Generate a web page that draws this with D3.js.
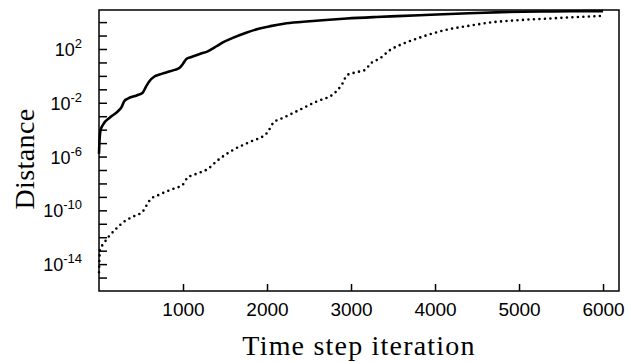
<!DOCTYPE html>
<html>
<head>
<meta charset="utf-8">
<script src="https://cdn.jsdelivr.net/npm/d3@7"></script>
<style>
  body { margin: 0; background: #fff; }
  svg { display: block; }
</style>
</head>
<body>
<svg width="636" height="362"></svg>
<script>
// solid curve
let solidSteps = [0, 8, 20, 50, 130, 230, 270, 300, 340, 450, 520, 560, 600, 660, 720, 800, 900, 960, 1000, 1040, 1100, 1200, 1300, 1400, 1480, 1600, 1760, 1900, 2040, 2200, 2430, 2700, 2950, 3300, 3550, 3950, 4400, 4800, 5400, 6000];
let solidDist = [1.6e-6, 2.5e-5, 1e-4, 2.5e-4, 8e-4, 2.5e-3, 5e-3, 1.3e-2, 2e-2, 3.5e-2, 5.6e-2, 0.16, 0.4, 0.9, 1.25, 1.8, 2.8, 4, 8, 18, 25, 42, 70, 160, 320, 700, 1700, 3200, 5000, 7600, 10500, 14500, 18600, 24000, 28000, 35000, 45000, 55000, 62000, 66000];

// dotted curve
let dottedSteps = [0, 5, 12, 50, 110, 200, 310, 430, 520, 560, 610, 700, 860, 1000, 1050, 1200, 1300, 1400, 1600, 1800, 2000, 2075, 2200, 2350, 2590, 2800, 2900, 2950, 3050, 3170, 3230, 3345, 3460, 3600, 3750, 3940, 4150, 4380, 4700, 5000, 5370, 5700, 6000];
let dottedDist = [2.5e-15, 2.5e-14, 1.3e-13, 3e-13, 1e-12, 4e-12, 1.6e-11, 4e-11, 8e-11, 2e-10, 6.3e-10, 1.3e-9, 3.5e-9, 8.5e-9, 2.5e-8, 6.3e-8, 1.25e-7, 4.5e-7, 3.2e-6, 1.25e-5, 5.6e-5, 3.2e-4, 8e-4, 2.3e-3, 1.25e-2, 5e-2, 0.28, 1.1, 1.8, 2.8, 8, 20, 80, 220, 500, 1250, 2800, 5000, 10000, 14000, 18600, 24000, 29500];

let xTicks = [1000, 2000, 3000, 4000, 5000, 6000];
let yTicks = d3.range(-15, 5).map(e => Math.pow(10, e));
let yLabelExps = [-14, -10, -6, -2, 2];

let svg = d3.select("svg");
let margin = {top: 10, right: 17, bottom: 71, left: 99};
let width = 636, height = 362;

let x = d3.scaleLinear()
  .domain([0, 6190])
  .range([margin.left, width - margin.right]);

let y = d3.scaleLog()
  .domain([1e-16, Math.pow(10, 4.9)])
  .range([height - margin.bottom, margin.top]);

// x axis, ticks pointing inward
svg.append("g")
  .attr("transform", `translate(0,${height - margin.bottom})`)
  .call(d3.axisBottom(x).tickValues(xTicks).tickSize(-7).tickPadding(12).tickFormat(d3.format("d")))
  .call(g => g.select(".domain").remove())
  .call(g => g.selectAll("line").attr("stroke", "#000").attr("stroke-width", 1.5))
  .call(g => g.selectAll("text")
    .attr("font-family", "Liberation Sans, Arial, sans-serif")
    .attr("font-size", 19)
    .attr("fill", "#000"));

// y axis, one tick per decade
svg.append("g")
  .attr("transform", `translate(${margin.left},0)`)
  .call(d3.axisLeft(y).tickValues(yTicks).tickSize(-8).tickFormat(""))
  .call(g => g.select(".domain").remove())
  .call(g => g.selectAll("line").attr("stroke", "#000").attr("stroke-width", 1.5));

let yLab = svg.append("g")
  .attr("font-family", "Liberation Sans, Arial, sans-serif")
  .attr("fill", "#000")
  .attr("text-anchor", "end")
  .selectAll("text").data(yLabelExps).enter().append("text")
  .attr("x", margin.left - 17)
  .attr("y", d => y(Math.pow(10, d)) + 7);
yLab.append("tspan").attr("font-size", 18).text("10");
yLab.append("tspan").attr("font-size", 13).attr("dy", -8).text(d => d);

let line = d3.line()
  .x(d => x(d[0]))
  .y(d => y(d[1]))
  .curve(d3.curveMonotoneX);

svg.append("path")
  .datum(d3.zip(dottedSteps, dottedDist))
  .attr("fill", "none")
  .attr("stroke", "#000")
  .attr("stroke-width", 2.6)
  .attr("stroke-linecap", "round")
  .attr("stroke-dasharray", "0,5.5")
  .attr("d", line);

svg.append("path")
  .datum(d3.zip(solidSteps, solidDist))
  .attr("fill", "none")
  .attr("stroke", "#000")
  .attr("stroke-width", 2.6)
  .attr("stroke-linejoin", "round")
  .attr("d", line);

// frame
svg.append("rect")
  .attr("x", margin.left)
  .attr("y", margin.top)
  .attr("width", width - margin.left - margin.right)
  .attr("height", height - margin.top - margin.bottom)
  .attr("fill", "none")
  .attr("stroke", "#000")
  .attr("stroke-width", 1.5);

svg.append("text")
  .attr("x", (margin.left + width - margin.right) / 2)
  .attr("y", 355)
  .attr("text-anchor", "middle")
  .attr("font-family", "Liberation Serif, Times New Roman, serif")
  .attr("font-size", 28)
  .attr("letter-spacing", 1.2)
  .text("Time step iteration");

svg.append("text")
  .attr("transform", "translate(34,159) rotate(-90)")
  .attr("text-anchor", "middle")
  .attr("font-family", "Liberation Serif, Times New Roman, serif")
  .attr("font-size", 28)
  .attr("letter-spacing", 0.4)
  .text("Distance");
</script>
</body>
</html>
